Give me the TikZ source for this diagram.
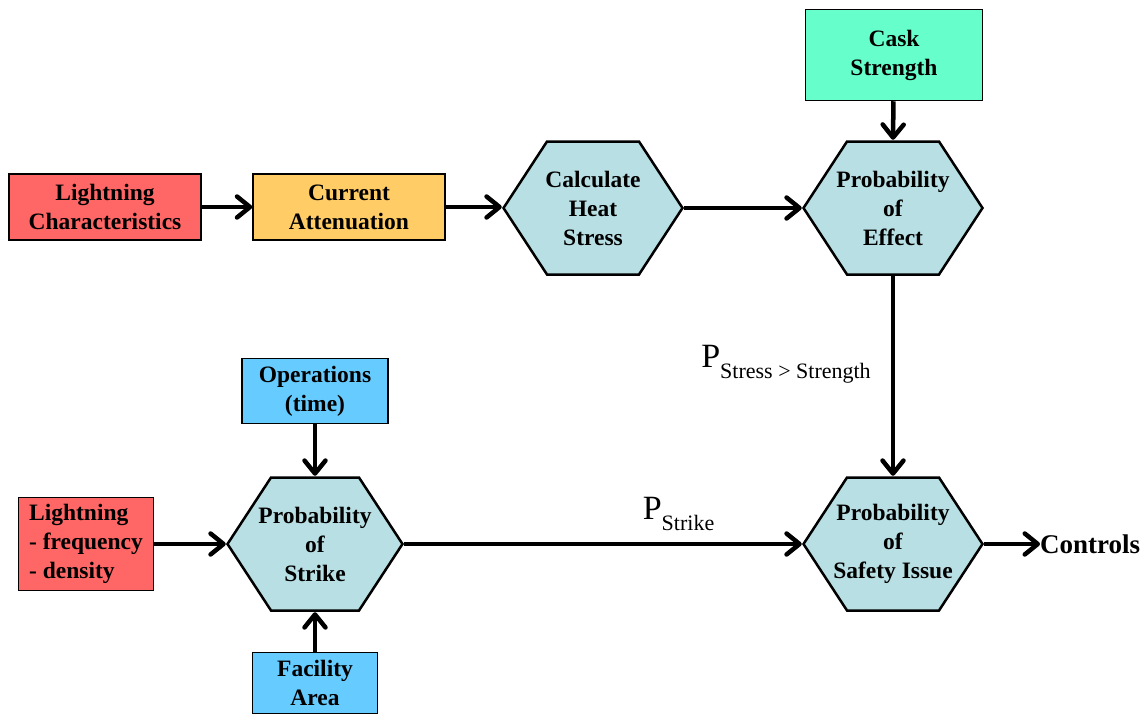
\documentclass[tikz,border=0pt]{standalone}
\usepackage{fontspec}
\setmainfont{Liberation Serif}
\usetikzlibrary{arrows.meta}
\definecolor{redbox}{HTML}{FF6666}
\definecolor{orangebox}{HTML}{FFCC66}
\definecolor{greenbox}{HTML}{66FFCC}
\definecolor{bluebox}{HTML}{66CCFF}
\definecolor{hexfill}{HTML}{B8DFE3}
\newcommand{\psub}[1]{\raisebox{-11pt}{\fontsize{22}{26}\selectfont #1}}
\begin{document}
\begin{tikzpicture}[x=1pt,y=-1pt,
    box/.style={draw,line width=1.5pt,inner sep=0pt,align=center,
        font=\fontsize{23.5}{29}\selectfont\bfseries},
    hexa/.style={minimum width=182pt,minimum height=136pt,inner sep=0pt,
        align=center,font=\fontsize{23.5}{29}\selectfont\bfseries,
        path picture={\draw[line width=2.5pt,fill=hexfill]
            ([xshift=1.5pt]path picture bounding box.west)
            -- ([xshift=45pt,yshift=-1.5pt]path picture bounding box.north west)
            -- ([xshift=-45pt,yshift=-1.5pt]path picture bounding box.north east)
            -- ([xshift=-1.5pt]path picture bounding box.east)
            -- ([xshift=-45pt,yshift=1.5pt]path picture bounding box.south east)
            -- ([xshift=45pt,yshift=1.5pt]path picture bounding box.south west)
            -- cycle;}},
    plabel/.style={inner sep=0pt,font=\fontsize{34}{40}\selectfont},
    arrow/.style={line width=4.5pt,
        -{Straight Barb[length=13pt,width=21pt,round]}}]
    \useasboundingbox (0,0) rectangle (1146,715);

    % top row
    \node[box,fill=redbox,minimum width=192pt,minimum height=66pt] (light) at (105,207) {Lightning\\Characteristics};
    \node[box,fill=orangebox,minimum width=192pt,minimum height=66pt] (atten) at (349,207) {Current\\Attenuation};
    \node[hexa] (heat) at (593,208) {Calculate\\Heat\\Stress};
    \node[hexa] (effect) at (893,208) {Probability\\of\\Effect};
    \node[box,fill=greenbox,minimum width=177pt,minimum height=91pt] (cask) at (894,55) {Cask\\Strength};

    % bottom row
    \node[box,fill=redbox,align=left,minimum width=135pt,minimum height=93pt] (freq) at (86,544) {Lightning\\- frequency\\- density};
    \node[hexa,minimum width=178pt] (strike) at (315,544) {Probability\\of\\Strike};
    \node[box,fill=bluebox,minimum width=146pt,minimum height=65pt] (ops) at (315,391) {Operations\\(time)};
    \node[box,fill=bluebox,minimum width=125pt,minimum height=61pt] (area) at (315,683) {Facility\\Area};
    \node[hexa] (safety) at (893,544) {Probability\\of\\Safety Issue};
    \node[anchor=west,inner sep=0pt,font=\fontsize{27}{30}\selectfont\bfseries] (ctrl) at (1040,544) {Controls};

    \draw[arrow] (light) -- (atten);
    \draw[arrow] (atten.east) -- (atten.east -| heat.west);
    \draw[arrow] (heat.east) -- (effect.west);
    \draw[arrow] (cask) -- (effect.north);
    \draw[arrow] (effect.south) -- (safety.north)
        node[plabel,pos=0.44,anchor=east,xshift=-20pt] {P\psub{Stress > Strength}};
    \draw[arrow] (freq) -- (strike.west);
    \draw[arrow] (ops) -- (strike.north);
    \draw[arrow] (area) -- (strike.south);
    \draw[arrow] (strike.east) -- (safety.west)
        node[plabel,pos=0.69,anchor=south,yshift=11pt] {P\psub{Strike}};
    \draw[arrow] (safety.east) -- (ctrl);
\end{tikzpicture}
\end{document}
